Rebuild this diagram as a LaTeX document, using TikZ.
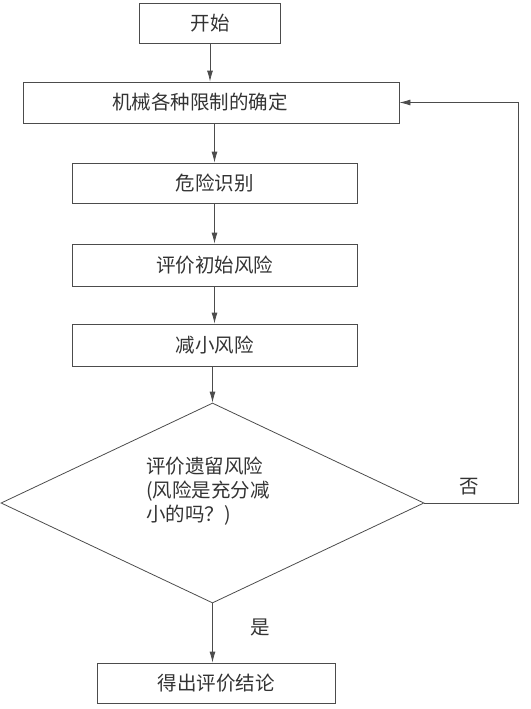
\documentclass[tikz,border=0pt]{standalone}
\usepackage{fontspec}
\setmainfont{Noto Sans CJK SC}
\usetikzlibrary{shapes.geometric,arrows.meta}

\tikzset{
  flowline/.style={draw=black!70, line width=0.8pt},
  flowarrow/.style={flowline, -{Latex[length=11pt,width=6pt]}},
}

\begin{document}
\begin{tikzpicture}[x=1pt,y=-1pt]
      \useasboundingbox (0,0) rectangle (530,709);

      \begin{scope}[every node/.style={rectangle, draw=black!70, line width=0.8pt,
          inner sep=0pt, font=\fontsize{19.5}{24}\selectfont, text=black!80}]
        \node[minimum width=141pt, minimum height=40pt] (1) at (210,23)    {开始};
        \node[minimum width=376pt, minimum height=41pt] (2) at (211,102.5) {\hspace*{-22pt}机械各种限制的确定};
        \node[minimum width=285pt, minimum height=40pt] (3) at (214.5,183) {危险识别};
        \node[minimum width=285pt, minimum height=42pt] (4) at (214.5,265) {评价初始风险};
        \node[minimum width=285pt, minimum height=42pt] (5) at (214.5,345) {减小风险};
        \node[diamond, minimum width=423pt, minimum height=200pt] (6) at (212.5,503) {};
        \node[minimum width=238pt, minimum height=40pt] (7) at (216,683)   {得出评价结论};
      \end{scope}

      \begin{scope}[every node/.style={font=\fontsize{19.5}{24}\selectfont, text=black!80}]
        \node[align=left] (6t) at (208,491) {评价遗留风险\\(风险是充分减\\小的吗？)};
        \node (no)  at (469,487) {否};
        \node (yes) at (260,627) {是};
      \end{scope}

      \coordinate (r) at (518,503);

      \path[flowarrow] (1.south) -- (1.south |- 2.north);
      \path[flowarrow] (3.north |- 2.south) -- (3.north);
      \path[flowarrow] (3.south) -- (4.north);
      \path[flowarrow] (4.south) -- (5.north);
      \path[flowarrow] (6.north |- 5.south) -- (6.north);
      \path[flowarrow] (6.south) -- (6.south |- 7.north);
      \path[flowarrow] (6.east) -- (r) |- (2.east);

    \end{tikzpicture}
\end{document}
